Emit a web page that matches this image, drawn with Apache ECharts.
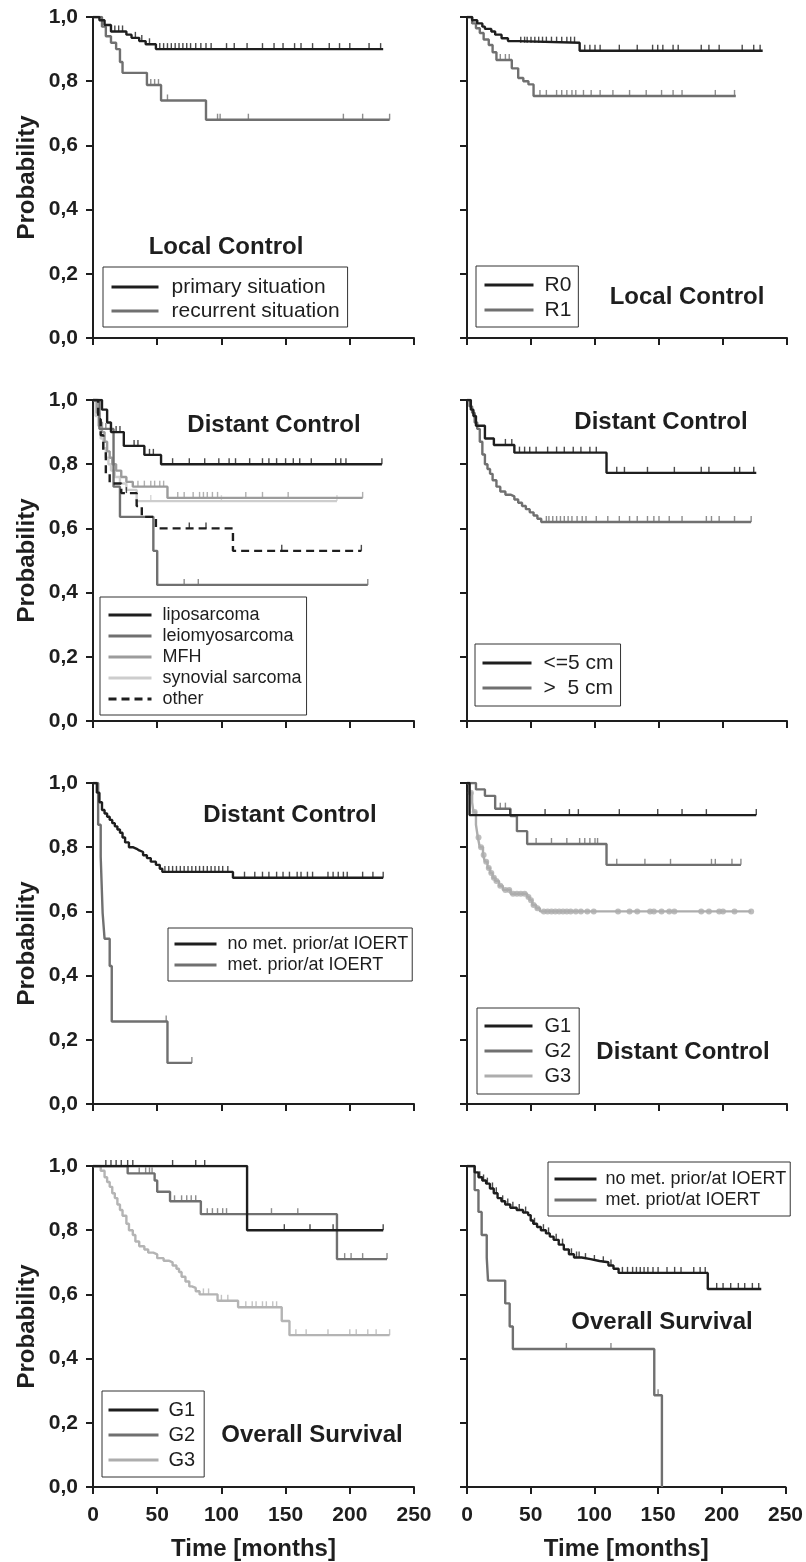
<!DOCTYPE html>
<html>
<head>
<meta charset="utf-8">
<script src="https://cdn.jsdelivr.net/npm/echarts@6/dist/echarts.min.js"></script>
<style>
html, body { margin: 0; padding: 0; background: #fff; }
#chart { width: 806px; height: 1562px; }
</style>
</head>
<body>
<div id="chart"></div>
<script>
// x / y ticks
var timeTicks = [0, 50, 100, 150, 200, 250];
var probTicks = [0, 0.2, 0.4, 0.6, 0.8, 1.0];

// --- Local control: primary vs recurrent situation
var lcPrimT = [0, 5, 9, 14, 26, 30, 36, 41, 49, 226];
var lcPrimP = [1, 0.99, 0.975, 0.955, 0.945, 0.935, 0.925, 0.915, 0.90, 0.90];
var lcPrimC = [17, 20, 23, 33, 38, 44, 52, 55, 58, 61, 64, 67, 70, 73, 76, 80, 84, 88, 92, 104, 110, 120, 132, 141, 148, 157, 162, 171, 184, 192, 200, 215, 224];
var lcRecT = [0, 7, 10, 14, 18, 21, 23, 42, 53, 88, 231];
var lcRecP = [1, 0.97, 0.94, 0.92, 0.90, 0.86, 0.826, 0.788, 0.74, 0.68, 0.68];
var lcRecC = [45, 48, 51, 58, 97, 99, 121, 195, 210, 231];

// --- Local control: R0 vs R1
var lcR0T = [0, 4, 8, 12, 14, 19, 22, 27, 32, 40, 88, 231];
var lcR0P = [1, 0.99, 0.98, 0.97, 0.963, 0.955, 0.945, 0.934, 0.925, 0.92, 0.895, 0.895];
var lcR0C = [42, 45, 47, 50, 53, 56, 59, 62, 66, 70, 74, 78, 81, 84, 92, 96, 100, 104, 119, 133, 145, 149, 153, 161, 165, 183, 189, 197, 215, 224, 229];
var lcR1T = [0, 4, 7, 10, 13, 17, 20, 23, 35, 40, 44, 48, 52, 210];
var lcR1P = [1, 0.98, 0.965, 0.95, 0.93, 0.913, 0.89, 0.866, 0.84, 0.81, 0.80, 0.79, 0.754, 0.754];
var lcR1C = [26, 30, 33, 57, 62, 70, 74, 78, 82, 85, 91, 97, 104, 114, 127, 140, 152, 161, 168, 194, 209];

// --- Distant control: histology
var dcLipoT = [0, 7, 11, 14, 24, 40, 53, 225];
var dcLipoP = [1, 0.97, 0.93, 0.90, 0.857, 0.829, 0.80, 0.80];
var dcLipoC = [18, 21, 32, 35, 44, 47, 62, 75, 87, 98, 106, 111, 122, 132, 137, 143, 150, 156, 161, 170, 189, 193, 197, 225];
var dcLeioT = [0, 5, 16, 21, 47, 50, 214];
var dcLeioP = [1, 0.91, 0.73, 0.636, 0.53, 0.424, 0.424];
var dcLeioC = [10, 71, 82, 214];
var dcMfhT = [0, 3, 5, 7, 9, 11, 13, 15, 18, 22, 26, 31, 58, 210];
var dcMfhP = [1, 0.96, 0.93, 0.90, 0.87, 0.84, 0.82, 0.80, 0.78, 0.76, 0.745, 0.73, 0.695, 0.695];
var dcMfhC = [35, 40, 45, 48, 52, 55, 66, 71, 78, 83, 86, 89, 93, 97, 119, 132, 152, 210];
var dcSynT = [0, 2, 4, 6, 8, 10, 12, 14, 17, 21, 26, 34, 190];
var dcSynP = [1, 0.95, 0.92, 0.88, 0.85, 0.82, 0.80, 0.78, 0.76, 0.74, 0.72, 0.685, 0.685];
var dcSynC = [45, 100, 190];
var dcOthT = [0, 4, 6, 8, 10, 13, 22, 34, 38, 49, 109, 209];
var dcOthP = [1, 0.94, 0.89, 0.84, 0.77, 0.74, 0.71, 0.67, 0.636, 0.60, 0.53, 0.53];
var dcOthC = [26, 75, 88, 147, 209];

// --- Distant control: tumour size
var dcSmallT = [0, 3, 5, 7, 14, 21, 37, 109, 226];
var dcSmallP = [1, 0.97, 0.95, 0.92, 0.88, 0.86, 0.836, 0.773, 0.773];
var dcSmallC = [30, 35, 41, 45, 49, 54, 63, 70, 76, 83, 89, 96, 101, 117, 123, 141, 162, 183, 189, 209, 213, 224];
var dcLargeT = [0, 2, 4, 6, 8, 10, 12, 14, 16, 18, 20, 23, 26, 30, 34, 37, 40, 43, 46, 49, 52, 55, 58, 222];
var dcLargeP = [1, 0.98, 0.96, 0.93, 0.91, 0.87, 0.83, 0.80, 0.785, 0.77, 0.75, 0.73, 0.715, 0.705, 0.70, 0.69, 0.68, 0.67, 0.66, 0.65, 0.64, 0.63, 0.62, 0.62];
var dcLargeC = [62, 64, 67, 70, 73, 76, 79, 82, 86, 90, 93, 101, 110, 119, 127, 133, 141, 146, 150, 158, 168, 187, 191, 197, 209, 222];

// --- Distant control: metastases prior/at IOERT
var dcNoMetT = [0, 3, 5, 7, 9, 11, 13, 15, 17, 19, 21, 23, 25, 28, 31, 34, 36, 39, 42, 45, 49, 52, 54, 109, 226];
var dcNoMetP = [1, 0.97, 0.94, 0.916, 0.905, 0.895, 0.885, 0.875, 0.865, 0.855, 0.845, 0.83, 0.815, 0.80, 0.795, 0.79, 0.785, 0.775, 0.766, 0.755, 0.745, 0.733, 0.723, 0.705, 0.705];
var dcNoMetC = [56, 59, 62, 65, 68, 71, 74, 77, 80, 83, 86, 89, 92, 95, 98, 101, 105, 118, 126, 132, 137, 143, 148, 153, 159, 162, 167, 171, 183, 187, 191, 195, 198, 210, 218, 226];
var dcMetT = [0, 4, 6, 7.5, 9, 13, 14.6, 58, 77];
var dcMetP = [1, 0.87, 0.77, 0.595, 0.515, 0.43, 0.257, 0.128, 0.128];
var dcMetC = [57, 77];

// --- Distant control: grading
var dcG1T = [0, 2, 226];
var dcG1P = [1, 0.90, 0.90];
var dcG1C = [33.5, 61, 80, 87, 119, 149, 168, 187, 226];
var dcG2T = [0, 7, 14, 22, 34, 39, 47, 109, 214];
var dcG2P = [1, 0.98, 0.96, 0.92, 0.897, 0.85, 0.81, 0.745, 0.745];
var dcG2C = [26, 30, 54, 66, 78, 88, 92, 96, 100, 102, 117, 139, 159, 191, 194, 207, 214];
var dcG3T = [0, 2, 4, 5, 7, 8.5, 10, 12.5, 14, 16, 18, 20, 22, 25, 28, 34, 47, 49, 51, 54, 57, 222];
var dcG3P = [1, 0.97, 0.94, 0.91, 0.87, 0.83, 0.80, 0.776, 0.755, 0.735, 0.72, 0.705, 0.695, 0.68, 0.667, 0.655, 0.645, 0.635, 0.62, 0.61, 0.60, 0.60];
var dcG3C = [3, 6, 9, 11, 13, 15, 17, 19, 21, 23, 26, 30, 33, 36, 39, 42, 45, 48, 50, 52, 55, 60, 63, 66, 69, 72, 75, 78, 81, 85, 89, 94, 99, 118, 127, 133, 143, 146, 152, 158, 162, 183, 189, 197, 200, 209, 222];

// --- Overall survival: grading
var osG1T = [0, 120, 226];
var osG1P = [1, 0.80, 0.80];
var osG1C = [10, 14, 18, 22, 27, 31, 62, 80, 87, 149, 169, 187, 226];
var osG2T = [0, 27, 48, 50, 60, 84, 190, 229];
var osG2P = [1, 0.977, 0.955, 0.92, 0.89, 0.85, 0.71, 0.71];
var osG2C = [36, 41, 44, 46, 63.5, 69, 73, 76.5, 80, 89, 93, 97, 101, 104, 139, 159.5, 196, 201, 210, 229];
var osG3T = [0, 6, 9, 11, 13, 15, 17, 19, 21, 23, 26, 28, 31, 33, 36, 40, 43, 47, 50, 55, 59, 62, 65, 67, 69, 72, 75, 77, 80, 83, 97, 113, 147, 153, 231];
var osG3P = [1, 0.985, 0.965, 0.95, 0.935, 0.915, 0.90, 0.88, 0.863, 0.845, 0.82, 0.80, 0.785, 0.765, 0.75, 0.74, 0.73, 0.725, 0.713, 0.705, 0.70, 0.69, 0.68, 0.67, 0.655, 0.64, 0.625, 0.62, 0.61, 0.60, 0.58, 0.56, 0.517, 0.473, 0.473];
var osG3C = [86, 90, 100, 105, 119, 124, 127, 132, 135, 140, 143, 158, 166, 183, 200, 205, 214, 220.5, 231];

// --- Overall survival: metastases prior/at IOERT
var osNoMetT = [0, 6, 9, 12, 15, 18, 21, 24, 27, 30, 34, 39, 44, 48, 50, 52, 55, 58, 62, 65, 68, 72, 76, 80, 84, 90, 97, 104, 111, 115, 119, 189, 231];
var osNoMetP = [1, 0.98, 0.965, 0.955, 0.945, 0.93, 0.915, 0.90, 0.89, 0.88, 0.87, 0.863, 0.855, 0.847, 0.83, 0.82, 0.81, 0.80, 0.79, 0.78, 0.77, 0.755, 0.74, 0.725, 0.715, 0.71, 0.704, 0.70, 0.69, 0.68, 0.667, 0.617, 0.617];
var osNoMetC = [10, 13, 16, 20, 23, 28, 32, 36, 41, 46, 53, 60, 64, 70, 75, 82, 86, 88, 93, 100, 107, 113, 122, 126, 130, 133, 136, 139, 142, 146, 150, 157, 163, 168, 178, 183, 187, 196, 201, 207, 213, 218, 224, 229];
var osMetT = [0, 6, 9, 11.5, 15.5, 16.5, 30, 33.5, 36, 147, 153];
var osMetP = [1, 0.925, 0.857, 0.785, 0.714, 0.643, 0.572, 0.50, 0.43, 0.286, 0];
var osMetC = [78, 113, 150];

var FONT = '"Liberation Sans", Arial, Helvetica, sans-serif';
var INK = '#1e1e1e';
var DARK = '#707070';
var MID = '#9c9c9c';
var LIGHT = '#cdcdcd';

// grid positions: 4 rows x 2 cols
var rowTops = [17, 400, 783, 1166];
var colLefts = [93, 467];

function kmData(t, p) {
  return t.map(function (v, i) { return [v, p[i]]; });
}
function survAt(t, p, x) {
  var s = p[0];
  for (var i = 0; i < t.length; i++) { if (t[i] <= x) s = p[i]; }
  return s;
}
function censorData(t, p, c) {
  return c.map(function (x) { return [x, survAt(t, p, x)]; });
}

var curves = [
  { g: 0, name: 'recurrent situation', t: lcRecT, p: lcRecP, c: lcRecC, color: DARK },
  { g: 0, name: 'primary situation', t: lcPrimT, p: lcPrimP, c: lcPrimC, color: INK },
  { g: 1, name: 'R1', t: lcR1T, p: lcR1P, c: lcR1C, color: DARK },
  { g: 1, name: 'R0', t: lcR0T, p: lcR0P, c: lcR0C, color: INK },
  { g: 2, name: 'synovial sarcoma', t: dcSynT, p: dcSynP, c: dcSynC, color: LIGHT },
  { g: 2, name: 'MFH', t: dcMfhT, p: dcMfhP, c: dcMfhC, color: MID },
  { g: 2, name: 'leiomyosarcoma', t: dcLeioT, p: dcLeioP, c: dcLeioC, color: DARK },
  { g: 2, name: 'other', t: dcOthT, p: dcOthP, c: dcOthC, color: INK, dash: [8, 5] },
  { g: 2, name: 'liposarcoma', t: dcLipoT, p: dcLipoP, c: dcLipoC, color: INK },
  { g: 3, name: '>  5 cm', t: dcLargeT, p: dcLargeP, c: dcLargeC, color: DARK },
  { g: 3, name: '<=5 cm', t: dcSmallT, p: dcSmallP, c: dcSmallC, color: INK },
  { g: 4, name: 'met. prior/at IOERT', t: dcMetT, p: dcMetP, c: dcMetC, color: DARK },
  { g: 4, name: 'no met. prior/at IOERT', t: dcNoMetT, p: dcNoMetP, c: dcNoMetC, color: INK },
  { g: 5, name: 'G3', t: dcG3T, p: dcG3P, c: dcG3C, color: '#adadad', dots: true },
  { g: 5, name: 'G2', t: dcG2T, p: dcG2P, c: dcG2C, color: DARK },
  { g: 5, name: 'G1', t: dcG1T, p: dcG1P, c: dcG1C, color: INK },
  { g: 6, name: 'G3', t: osG3T, p: osG3P, c: osG3C, color: '#b4b4b4' },
  { g: 6, name: 'G2', t: osG2T, p: osG2P, c: osG2C, color: DARK },
  { g: 6, name: 'G1', t: osG1T, p: osG1P, c: osG1C, color: INK },
  { g: 7, name: 'met. priot/at IOERT', t: osMetT, p: osMetP, c: osMetC, color: DARK },
  { g: 7, name: 'no met. prior/at IOERT', t: osNoMetT, p: osNoMetP, c: osNoMetC, color: INK }
];

// legend boxes: names, position, line length, font, spacing, padding, text offset
var legends = [
  { g: 0, names: ['primary situation', 'recurrent situation'], left: 103, top: 267, line: 47, fs: 21, gap: 3, pad: [9.5, 8, 5.5, 7], tp: 8 },
  { g: 1, names: ['R0', 'R1'], left: 476, top: 266, line: 49, fs: 21, gap: 4, pad: [8.5, 7, 6.5, 7], tp: 6 },
  { g: 2, names: ['liposarcoma', 'leiomyosarcoma', 'MFH', 'synovial sarcoma', 'other'], left: 100, top: 597, line: 43, fs: 18, gap: 3, pad: [9, 5, 7, 7], tp: 6 },
  { g: 3, names: ['<=5 cm', '>  5 cm'], left: 475, top: 644, line: 49, fs: 21, gap: 4, pad: [8.5, 7, 7.5, 6], tp: 7 },
  { g: 4, names: ['no met. prior/at IOERT', 'met. prior/at IOERT'], left: 168, top: 928, line: 42, fs: 18, gap: 3, pad: [7, 4, 7, 5], tp: 6 },
  { g: 5, names: ['G1', 'G2', 'G3'], left: 477, top: 1008, line: 48, fs: 20, gap: 5, pad: [8, 8, 8, 6], tp: 7 },
  { g: 6, names: ['G1', 'G2', 'G3'], left: 102, top: 1391, line: 50, fs: 20, gap: 5, pad: [9, 9, 7, 5], tp: 5 },
  { g: 7, names: ['no met. prior/at IOERT', 'met. priot/at IOERT'], left: 548, top: 1162, line: 42, fs: 18, gap: 3, pad: [8, 4, 7, 5], tp: 4 }
];

// panel titles (centre points)
var titles = [
  { text: 'Local Control', x: 226, y: 247 },
  { text: 'Local Control', x: 687, y: 297 },
  { text: 'Distant Control', x: 274, y: 425 },
  { text: 'Distant Control', x: 661, y: 422 },
  { text: 'Distant Control', x: 290, y: 815 },
  { text: 'Distant Control', x: 683, y: 1052 },
  { text: 'Overall Survival', x: 312, y: 1435 },
  { text: 'Overall Survival', x: 662, y: 1322 }
];

var grids = [], xAxes = [], yAxes = [], series = [];
for (var g = 0; g < 8; g++) {
  var row = Math.floor(g / 2), col = g % 2;
  var bottomRow = row === 3, leftCol = col === 0;
  grids.push({ left: colLefts[col], top: rowTops[row], width: leftCol ? 321 : 320, height: 321 });
  xAxes.push({
    type: 'value', gridIndex: g, min: timeTicks[0], max: timeTicks[timeTicks.length - 1], interval: 50,
    axisLine: { lineStyle: { color: INK, width: 2 } },
    axisTick: { length: 7, lineStyle: { color: INK, width: 2 } },
    axisLabel: { show: bottomRow, margin: 18, fontSize: 21, fontWeight: 'bold', color: INK, fontFamily: FONT },
    splitLine: { show: false },
    name: bottomRow ? 'Time [months]' : '', nameLocation: 'middle', nameGap: 50,
    nameTextStyle: { fontSize: 24, fontWeight: 'bold', color: INK, fontFamily: FONT }
  });
  yAxes.push({
    type: 'value', gridIndex: g, min: probTicks[0], max: probTicks[probTicks.length - 1], interval: 0.2,
    axisLine: { lineStyle: { color: INK, width: 2 } },
    axisTick: { length: 7, lineStyle: { color: INK, width: 2 } },
    axisLabel: {
      show: leftCol, margin: 15, fontSize: 21, fontWeight: 'bold', color: INK, fontFamily: FONT,
      formatter: function (v) { return v.toFixed(1).replace('.', ','); }
    },
    splitLine: { show: false },
    name: leftCol ? 'Probability' : '', nameLocation: 'middle', nameGap: 54,
    nameTextStyle: { fontSize: 24, fontWeight: 'bold', color: INK, fontFamily: FONT }
  });
}

curves.forEach(function (cv, i) {
  // itemStyle opacity 0 keeps the legend icon a plain line (no symbol)
  series.push({
    type: 'line', name: cv.name, xAxisIndex: cv.g, yAxisIndex: cv.g,
    data: kmData(cv.t, cv.p), step: 'end', symbol: 'none', silent: true, z: 2 + i * 0.01,
    lineStyle: { color: cv.color, width: 2.4, type: cv.dash || 'solid' },
    itemStyle: { color: cv.color, opacity: 0 }
  });
  series.push({
    type: 'scatter', xAxisIndex: cv.g, yAxisIndex: cv.g, silent: true, z: 2 + i * 0.01,
    data: censorData(cv.t, cv.p, cv.c),
    symbol: cv.dots ? 'circle' : 'rect',
    symbolSize: cv.dots ? 6 : [1.4, 6],
    symbolOffset: cv.dots ? [0, 0] : [0, -3],
    itemStyle: { color: cv.color }
  });
});

var legendOpts = legends.map(function (lg) {
  return {
    orient: 'vertical', left: lg.left, top: lg.top, data: lg.names, selectedMode: false,
    itemWidth: lg.line, itemHeight: lg.fs, itemGap: lg.gap, padding: lg.pad,
    borderColor: '#333', borderWidth: 1, backgroundColor: '#fff',
    itemStyle: { opacity: 0 },
    lineStyle: { width: 3 },
    textStyle: { fontFamily: FONT, fontSize: lg.fs, lineHeight: lg.fs, color: INK, padding: [0, 0, 0, lg.tp] }
  };
});

var titleTexts = titles.map(function (t) {
  return {
    type: 'text', x: t.x, y: t.y, silent: true,
    style: { text: t.text, fill: INK, font: 'bold 24px ' + FONT, textAlign: 'center', textVerticalAlign: 'middle' }
  };
});

var chart = echarts.init(document.getElementById('chart'), null, { renderer: 'canvas' });
chart.setOption({
  animation: false,
  backgroundColor: '#fff',
  grid: grids,
  xAxis: xAxes,
  yAxis: yAxes,
  legend: legendOpts,
  graphic: titleTexts,
  series: series
});
</script>
</body>
</html>
